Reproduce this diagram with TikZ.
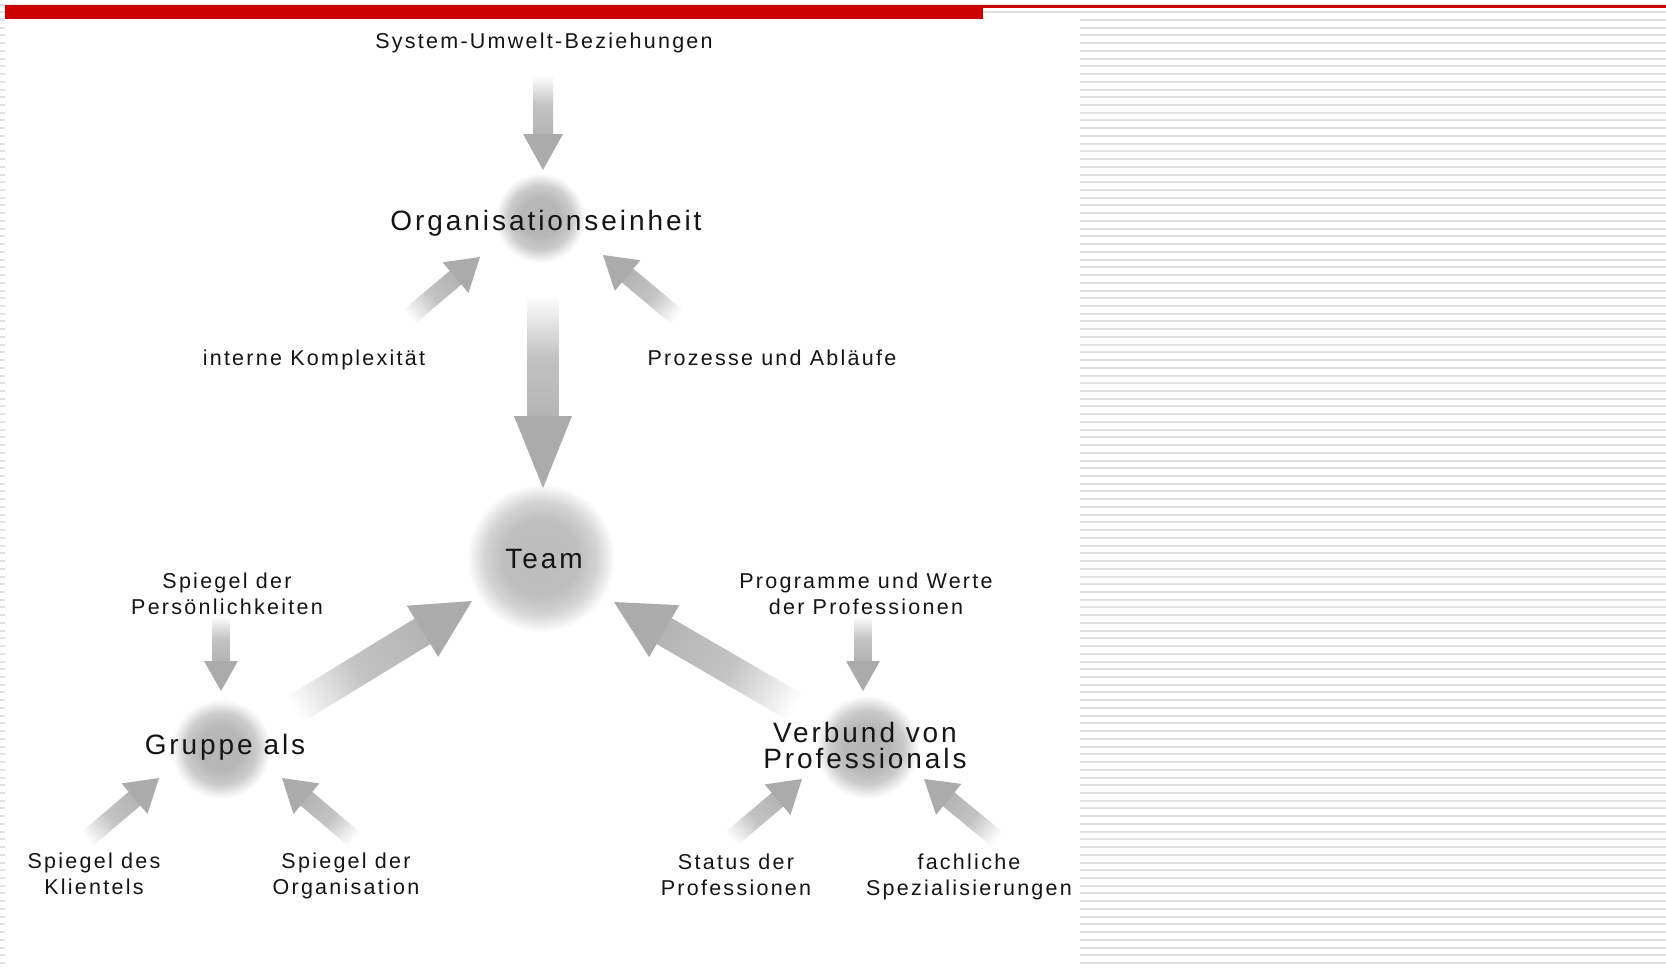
\documentclass[tikz,border=0pt]{standalone}
\usepackage{fontspec}
\setmainfont{Liberation Sans}[LetterSpace=10.5]
\definecolor{redbar}{HTML}{CC0000}
\definecolor{stripe}{HTML}{E1E1E1}
\definecolor{arrowg}{HTML}{B4B4B4}
\definecolor{headg}{HTML}{ABABAB}
\definecolor{txt}{HTML}{141414}
\pgfdeclareradialshading{blob}{\pgfpoint{0bp}{0bp}}{color(0bp)=(black!29); color(11bp)=(black!28); color(18bp)=(black!20); color(22bp)=(black!8); color(25bp)=(white); color(50bp)=(white)}
\pgfdeclareradialshading{blobsoft}{\pgfpoint{0bp}{0bp}}{color(0bp)=(black!26); color(13bp)=(black!25); color(19bp)=(black!17); color(23bp)=(black!6); color(25bp)=(white); color(50bp)=(white)}
% gradient arrow from coordinate #1 to coordinate #2
% #3 shaft half width, #4 head half width, #5 head length (pt)
\newcommand\garrow[5]{%
  \path (#1); \pgfgetlastxy{\gax}{\gay}%
  \path (#2); \pgfgetlastxy{\gbx}{\gby}%
  \pgfmathsetmacro\gang{atan2(\gby-\gay,\gbx-\gax)}%
  \pgfmathsetmacro\glen{veclen(\gbx-\gax,\gby-\gay)}%
  \pgfmathsetmacro\gshaft{\glen-#5}%
  \begin{scope}[transform canvas={shift={(\gax,\gay)},rotate=\gang}]
    \shade[left color=white, right color=arrowg, middle color=arrowg!80!white] (0pt,-#3pt) rectangle (\gshaft pt+0.6pt,#3pt);
    \fill[headg] (\gshaft pt,-#4pt) -- (\glen pt,0pt) -- (\gshaft pt,#4pt) -- cycle;
  \end{scope}}
\begin{document}
\begin{tikzpicture}[x=1pt,y=-1pt,
  small/.style={font=\fontsize{21.5pt}{25.5pt}\selectfont, text=txt, align=center, inner sep=0pt},
  big/.style={font=\fontsize{28pt}{26pt}\selectfont, text=txt, align=center, inner sep=0pt},
  blobshade/.style={shading=blob},
  blobsoftshade/.style={shading=blobsoft}]
\useasboundingbox (0,0) rectangle (1666,969);
% background stripes
\foreach \k in {0,...,125}
  \fill[stripe] (0,3.5+7.73*\k) rectangle (1666,5.5+7.73*\k);
% white panel
\fill[white] (5,19) rectangle (1080,969);
% red bars
\fill[redbar] (5,5) rectangle (983,19);
\fill[redbar] (983,5) rectangle (1666,8);

% blobs
\shade[blobshade] (540,218) circle (45);
\shade[blobsoftshade] (541,558) circle (74);
\shade[blobshade] (221,749) circle (50);
\shade[blobshade] (867,747) circle (52);

% text nodes
\node[small, anchor=base] (sys) at (544,48) {System-Umwelt-Beziehungen};
\node[big, anchor=base] (org) at (546,230) {Organisationseinheit};
\node[small, anchor=base] (ik) at (314,365) {interne Komplexität};
\node[small, anchor=base] (pa) at (772,365) {Prozesse und Abläufe};
\node[big, anchor=base] (team) at (544,568) {Team};
\node[small] (sp) at (227,594) {Spiegel der\\Persönlichkeiten};
\node[small] (pw) at (866,594) {Programme und Werte\\der Professionen};
\node[big, anchor=base] (grp) at (225,754) {Gruppe als};
\node[big] (vb) at (865,745) {Verbund von\\Professionals};
\node[small] (sk) at (94,874) {Spiegel des\\Klientels};
\node[small] (so) at (346,876) {Spiegel der\\Organisation};
\node[small] (st) at (736,875) {Status der\\Professionen};
\node[small] (fs) at (969,877) {fachliche\\Spezialisierungen};

% arrow end points
\coordinate (a1s) at (543,75);   \coordinate (a1e) at (543,170);
\coordinate (a2s) at (543,295);  \coordinate (a2e) at (543,488);
\coordinate (a3s) at (409,317);  \coordinate (a3e) at (480,257);
\coordinate (a4s) at (677,317);  \coordinate (a4e) at (603,255);
\coordinate (a5s) at (294,710);  \coordinate (a5e) at (472,601);
\coordinate (a6s) at (795,707);  \coordinate (a6e) at (614,602);
\coordinate (a7s) at (221,616);  \coordinate (a7e) at (221,691);
\coordinate (a8s) at (863,616);  \coordinate (a8e) at (863,691);
\coordinate (a9s) at (87,839);   \coordinate (a9e) at (159,778);
\coordinate (a10s) at (354,839); \coordinate (a10e) at (282,778);
\coordinate (a11s) at (731,839); \coordinate (a11e) at (802,779);
\coordinate (a12s) at (997,839); \coordinate (a12e) at (924,779);

\garrow{a1s}{a1e}{10}{20}{36}
\garrow{a2s}{a2e}{15.5}{29}{72}
\garrow{a3s}{a3e}{9}{20}{32}
\garrow{a4s}{a4e}{9}{20}{32}
\garrow{a5s}{a5e}{15}{30}{58}
\garrow{a6s}{a6e}{15}{30}{58}
\garrow{a7s}{a7e}{8.5}{17}{30}
\garrow{a8s}{a8e}{8.5}{17}{30}
\garrow{a9s}{a9e}{9}{20}{32}
\garrow{a10s}{a10e}{9}{20}{32}
\garrow{a11s}{a11e}{9}{20}{32}
\garrow{a12s}{a12e}{9}{20}{32}
\end{tikzpicture}
\end{document}
